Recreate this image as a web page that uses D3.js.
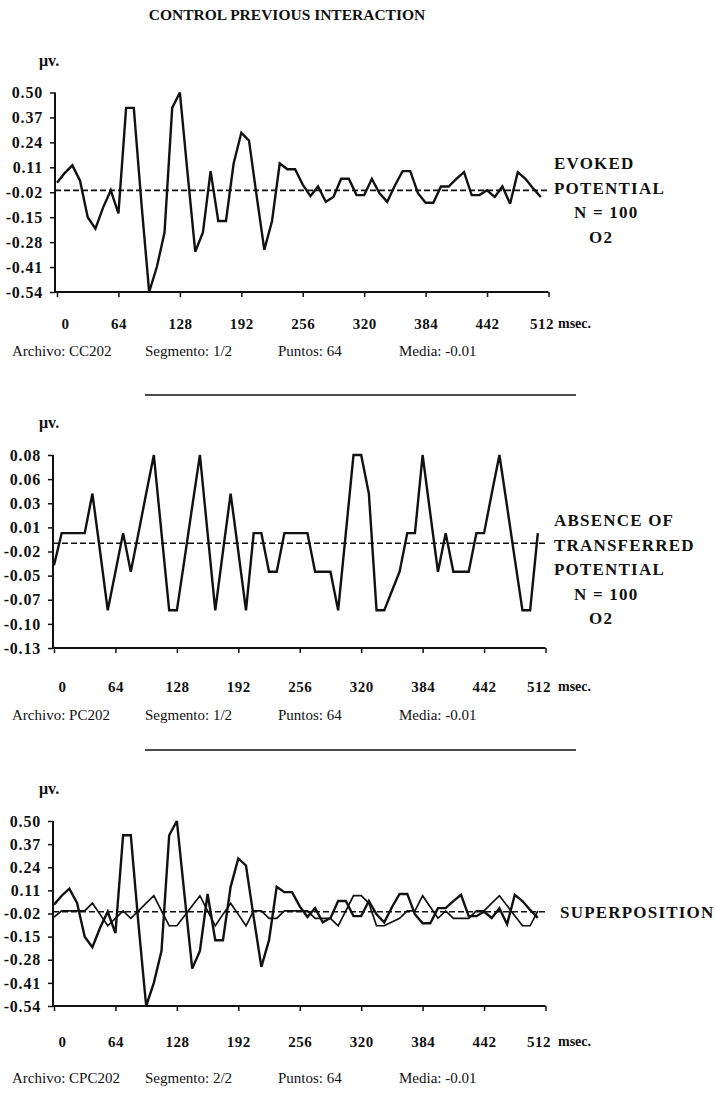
<!DOCTYPE html>
<html lang="en">
<head>
<meta charset="UTF-8">
<script src="https://d3js.org/d3.v7.min.js"></script>
<title>Control previous interaction</title>
<style>
  body { margin: 0; background: #fff; }
  svg text { font-family: "Liberation Serif", "Times New Roman", serif; fill: #111; }
</style>
</head>
<body>
<svg id="chart" width="715" height="1095"></svg>
<script>

// evoked potential, 64 points, 8 msec apart
const evoked = [
   0.03,  0.08,  0.12,  0.04, -0.15, -0.21, -0.10, -0.01,
  -0.13,  0.42,  0.42, -0.08, -0.54, -0.41, -0.23,  0.42,
   0.50,  0.08, -0.33, -0.23,  0.09, -0.17, -0.17,  0.13,
   0.29,  0.25, -0.04, -0.32, -0.17,  0.13,  0.10,  0.10,
   0.02, -0.04,  0.01, -0.07, -0.045, 0.05,  0.05, -0.035,
  -0.035, 0.05, -0.025, -0.07, 0.015, 0.09,  0.09, -0.025,
  -0.075, -0.075, 0.01, 0.01,  0.05,  0.085, -0.035, -0.035,
  -0.01, -0.045, 0.01, -0.08,  0.085, 0.05,  0.00, -0.045
];

// absence of transferred potential
const transferred = [
  -0.04, -0.005, -0.005, -0.005, -0.005, 0.038, -0.025, -0.089,
  -0.047, -0.005, -0.047, -0.005, 0.038, 0.08, -0.005, -0.089,
  -0.089, -0.033, 0.024, 0.08, -0.005, -0.089, -0.025, 0.038,
  -0.025, -0.089, -0.005, -0.005, -0.047, -0.047, -0.005, -0.005,
  -0.005, -0.005, -0.047, -0.047, -0.047, -0.089, -0.005, 0.08,
   0.08, 0.038, -0.089, -0.089, -0.068, -0.047, -0.005, -0.005,
   0.08, 0.016, -0.047, -0.005, -0.047, -0.047, -0.047, -0.005,
  -0.005, 0.038, 0.08, 0.024, -0.033, -0.089, -0.089, -0.005
];

const xTicks = [0, 64, 128, 192, 256, 320, 384, 448, 512];
const xTickLabels = ["0", "64", "128", "192", "256", "320", "384", "442", "512"];

const bigLabels = ["0.50", "0.37", "0.24", "0.11", "-0.02", "-0.15", "-0.28", "-0.41", "-0.54"];
const smallLabels = ["0.08", "0.06", "0.03", "0.01", "-0.02", "-0.05", "-0.07", "-0.10", "-0.13"];

const files = ["CC202", "PC202", "CPC202"];
const segments = ["1/2", "1/2", "2/2"];
const means = [-0.01, -0.016, -0.01];

const sideText = [
  [["EVOKED", 0], ["POTENTIAL", 0], ["N = 100", 20], ["O2", 35]],
  [["ABSENCE OF", 0], ["TRANSFERRED", 0], ["POTENTIAL", 0], ["N = 100", 20], ["O2", 35]],
  [["SUPERPOSITION", 0]]
];

let svg = d3.select("#chart");

// title
svg.append("text")
  .attr("x", 287).attr("y", 20)
  .attr("text-anchor", "middle")
  .attr("style", "font-weight: bold; font-size: 15.5px;")
  .text("CONTROL PREVIOUS INTERACTION");

// separators
[395, 750].forEach(yy => {
  svg.append("line")
    .attr("x1", 145).attr("x2", 576)
    .attr("y1", yy).attr("y2", yy)
    .attr("style", "stroke: #111; stroke-width: 1.5");
});

function drawPanel(p) {
  let g = svg.append("g");
  let top = [92.5, 455, 821][p];
  let bottom = [292, 648, 1006][p];
  let axisX = [55, 53, 53][p];
  let x0 = [57, 54, 54][p];
  let labelOff = [36, 43, 40][p];
  let footOff = [64, 72, 77][p];

  let x = d3.scaleLinear().domain([0, 512]).range([x0, x0 + 491.5]);
  let y, tickPos, labels;
  if (p == 1) {
    y = d3.scaleLinear().domain([-0.13, 0.08]).range([bottom, top]);
    tickPos = smallLabels.map((d, k) => 0.08 - k * 0.21 / 8);
    labels = smallLabels;
  } else {
    y = d3.scaleLinear().domain([-0.54, 0.50]).range([bottom, top]);
    tickPos = bigLabels.map(d => +d);
    labels = bigLabels;
  }

  // mu v label
  g.append("text")
    .attr("x", 39).attr("y", top - 27)
    .attr("style", "font-weight: bold; font-size: 16px;")
    .text("\u03bcv.");

  // y axis
  let ya = g.append("g")
    .attr("transform", "translate(" + axisX + ",0)")
    .call(d3.axisLeft(y).tickValues(tickPos).tickSize(5).tickSizeOuter(0).tickPadding(7)
      .tickFormat((d, k) => labels[k]));
  ya.select(".domain").remove();
  ya.selectAll("line").attr("stroke", "#111").attr("stroke-width", 1.5);
  ya.selectAll("text")
    .attr("style", "font-weight: bold; font-size: 16px; letter-spacing: 0.8px; font-family: 'Liberation Serif', serif;");

  // x axis
  let xa = g.append("g")
    .attr("transform", "translate(0," + bottom + ")")
    .call(d3.axisBottom(x).tickValues(xTicks).tickSize(5).tickSizeOuter(0).tickPadding(labelOff - 15)
      .tickFormat((d, k) => xTickLabels[k]));
  xa.select(".domain").remove();
  xa.selectAll("line").attr("stroke", "#111").attr("stroke-width", 1.5);
  xa.selectAll("text")
    .attr("style", "font-weight: bold; font-size: 15px; letter-spacing: 0.5px; font-family: 'Liberation Serif', serif;")
    .attr("dx", (d, k) => k == 0 ? 8 : (k == 8 ? -7 : 0));

  g.append("line")
    .attr("x1", axisX).attr("x2", axisX)
    .attr("y1", top).attr("y2", bottom + 1)
    .attr("style", "stroke: #111; stroke-width: 2");
  g.append("line")
    .attr("x1", axisX - 1).attr("x2", x(512))
    .attr("y1", bottom).attr("y2", bottom)
    .attr("style", "stroke: #111; stroke-width: 2");

  g.append("text")
    .attr("x", 558).attr("y", bottom + labelOff)
    .attr("style", "font-weight: bold; font-size: 14px;")
    .text("msec.");

  // mean line
  g.append("line")
    .attr("x1", axisX).attr("x2", x(512))
    .attr("y1", y(means[p])).attr("y2", y(means[p]))
    .attr("style", "stroke: #111; stroke-width: 1.6; stroke-dasharray: 6 3");

  let line = d3.line().x((d, i) => x(i * 8)).y(d => y(d));
  let series = p == 0 ? [evoked] : p == 1 ? [transferred] : [transferred, evoked];
  series.forEach((s, k) => {
    g.append("path")
      .datum(s)
      .attr("d", line)
      .attr("fill", "none")
      .attr("stroke", "#111")
      .attr("stroke-width", (p == 2 && k == 0) ? 1.7 : 2.4)
      .attr("stroke-linejoin", "miter")
      .attr("stroke-miterlimit", 3);
  });

  // footer
  let foot = ["Archivo: " + files[p], "Segmento: " + segments[p], "Puntos: 64", "Media: -0.01"];
  let footX = [12, 145, 278, 399];
  foot.forEach((t, k) => {
    g.append("text")
      .attr("x", footX[k]).attr("y", bottom + footOff)
      .attr("style", "font-size: 15px;")
      .text(t);
  });

  // side labels
  let side = sideText[p];
  let sy = p == 2 ? y(means[p]) + 6 : (p == 0 ? 169 : 526);
  side.forEach((s, k) => {
    g.append("text")
      .attr("x", (p == 2 ? 560 : 554) + s[1]).attr("y", sy + k * 24.5)
      .attr("style", "font-weight: bold; font-size: 17px; letter-spacing: 1.2px;")
      .text(s[0]);
  });
}

[0, 1, 2].forEach(drawPanel);

</script>
</body>
</html>
